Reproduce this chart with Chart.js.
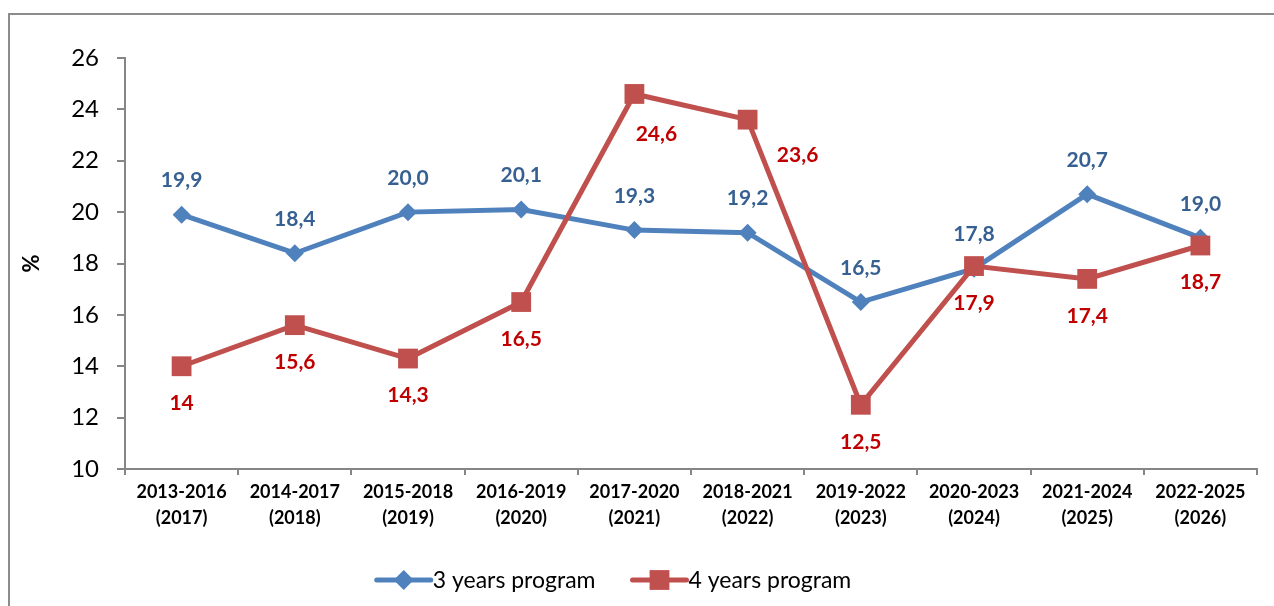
<!DOCTYPE html>
<html>
<head>
<meta charset="utf-8">
<script src="https://cdn.jsdelivr.net/npm/chart.js@4"></script>
<style>
  body { margin: 0; background: #fff; }
  #wrap { width: 1274px; height: 606px; }
</style>
</head>
<body>
<div id="wrap"><canvas id="Chart" width="1274" height="606"></canvas></div>
<script>
// chart data
const categories = [
    ['2013-2016', '(2017)'], ['2014-2017', '(2018)'], ['2015-2018', '(2019)'],
    ['2016-2019', '(2020)'], ['2017-2020', '(2021)'], ['2018-2021', '(2022)'],
    ['2019-2022', '(2023)'], ['2020-2023', '(2024)'], ['2021-2024', '(2025)'],
    ['2022-2025', '(2026)']
];
const threeYears = [19.9, 18.4, 20.0, 20.1, 19.3, 19.2, 16.5, 17.8, 20.7, 19.0];
const fourYears = [14, 15.6, 14.3, 16.5, 24.6, 23.6, 12.5, 17.9, 17.4, 18.7];
const threeYearsLabels = ['19,9', '18,4', '20,0', '20,1', '19,3', '19,2', '16,5', '17,8', '20,7', '19,0'];
const fourYearsLabels = ['14', '15,6', '14,3', '16,5', '24,6', '23,6', '12,5', '17,9', '17,4', '18,7'];
const seriesNames = ['3 years program', '4 years program'];
const yTicks = [10, 12, 14, 16, 18, 20, 22, 24, 26];

const FONT = 'Lato';
const AXIS_GRAY = '#868686';

// where the value labels sit relative to each point
const labelOffsets = [
    threeYears.map(() => [0, -34]),
    fourYears.map((v, i) => i === 4 ? [22, 40] : i === 5 ? [50, 36] : [0, 37])
];
const labelColors = ['#376092', '#C00000'];
const labelTexts = [threeYearsLabels, fourYearsLabels];

const valueLabels = {
    id: 'valueLabels',
    afterDatasetsDraw(chart) {
        const ctx = chart.ctx;
        ctx.save();
        ctx.font = 'bold 21px ' + FONT;
        ctx.textAlign = 'center';
        ctx.textBaseline = 'middle';
        chart.data.datasets.forEach((ds, di) => {
            const meta = chart.getDatasetMeta(di);
            meta.data.forEach((pt, i) => {
                const off = labelOffsets[di][i];
                ctx.fillStyle = labelColors[di];
                ctx.fillText(labelTexts[di][i], pt.x + off[0], pt.y + off[1]);
            });
        });
        ctx.restore();
    }
};

// frame line + legend drawn by hand (line with marker in the middle)
const frameAndLegend = {
    id: 'frameAndLegend',
    beforeDraw(chart) {
        const ctx = chart.ctx;
        ctx.save();
        ctx.strokeStyle = '#8c8c8c';
        ctx.lineWidth = 2;
        ctx.beginPath();
        ctx.moveTo(9, 606);
        ctx.lineTo(9, 14);
        ctx.lineTo(1274, 14);
        ctx.stroke();
        ctx.restore();
    },
    afterDraw(chart) {
        const ctx = chart.ctx;
        ctx.save();
        ctx.font = '23px ' + FONT;
        ctx.textBaseline = 'middle';
        const lineW = 54, gap = 37, y = 580;
        const widths = seriesNames.map(n => ctx.measureText(n).width);
        const total = widths.reduce((a, w) => a + lineW + 2 + w, 0) + gap;
        let x = 614 - total / 2;
        chart.data.datasets.forEach((ds, i) => {
            ctx.strokeStyle = ds.borderColor;
            ctx.lineWidth = 5;
            ctx.lineCap = 'round';
            ctx.beginPath();
            ctx.moveTo(x, y);
            ctx.lineTo(x + lineW, y);
            ctx.stroke();
            ctx.fillStyle = ds.backgroundColor;
            ctx.beginPath();
            if (ds.pointStyle === 'rectRot') {
                const r = ds.pointRadius + 1;
                ctx.moveTo(x + lineW / 2, y - r);
                ctx.lineTo(x + lineW / 2 + r, y);
                ctx.lineTo(x + lineW / 2, y + r);
                ctx.lineTo(x + lineW / 2 - r, y);
            } else {
                const s = ds.pointRadius * Math.SQRT1_2;
                ctx.rect(x + lineW / 2 - s, y - s, 2 * s, 2 * s);
            }
            ctx.fill();
            ctx.fillStyle = '#000';
            ctx.fillText(seriesNames[i], x + lineW + 2, y + 1);
            x += lineW + 2 + widths[i] + gap;
        });
        ctx.restore();
    }
};

const ctx = document.getElementById('Chart').getContext('2d');
const myChart = new Chart(ctx, {
    type: 'line',
    data: {
        labels: categories,
        datasets: [{
            label: seriesNames[0],
            data: threeYears,
            borderColor: '#4F81BD',
            backgroundColor: '#4F81BD',
            borderWidth: 5,
            pointStyle: 'rectRot',
            pointRadius: 9,
            pointBorderWidth: 0,
            tension: 0,
            order: 1
        }, {
            label: seriesNames[1],
            data: fourYears,
            borderColor: '#C0504D',
            backgroundColor: '#C0504D',
            borderWidth: 5,
            pointStyle: 'rect',
            pointRadius: 14,
            pointBorderWidth: 0,
            tension: 0,
            order: 0
        }]
    },
    options: {
        responsive: false,
        devicePixelRatio: 1,
        animation: false,
        layout: {
            padding: { top: 58, right: 17, bottom: 0, left: 0 }
        },
        plugins: {
            legend: { display: false },
            tooltip: { enabled: false }
        },
        scales: {
            y: {
                min: 10,
                max: 26,
                afterFit: scale => { scale.width = 125; },
                afterBuildTicks: scale => {
                    scale.ticks = yTicks.map(v => ({ value: v }));
                },
                ticks: {
                    color: '#000',
                    padding: 18,
                    font: { family: FONT, size: 24 }
                },
                grid: {
                    drawOnChartArea: false,
                    drawTicks: true,
                    tickLength: 8,
                    color: AXIS_GRAY,
                    lineWidth: 2
                },
                border: { color: AXIS_GRAY, width: 2 },
                title: {
                    display: true,
                    text: '%',
                    color: '#000',
                    padding: { top: 19, bottom: 0 },
                    font: { family: FONT, size: 22, weight: 'bold' }
                }
            },
            x: {
                offset: true,
                afterFit: scale => { scale.height = 137; },
                ticks: {
                    color: '#000',
                    padding: 5,
                    maxRotation: 0,
                    autoSkip: false,
                    font: { family: FONT, size: 18, weight: 'bold', lineHeight: 1.4 }
                },
                grid: {
                    offset: true,
                    drawOnChartArea: false,
                    drawTicks: true,
                    tickLength: 6,
                    color: AXIS_GRAY,
                    lineWidth: 2
                },
                border: { color: AXIS_GRAY, width: 2 }
            }
        }
    },
    plugins: [frameAndLegend, valueLabels]
});
</script>
</body>
</html>
